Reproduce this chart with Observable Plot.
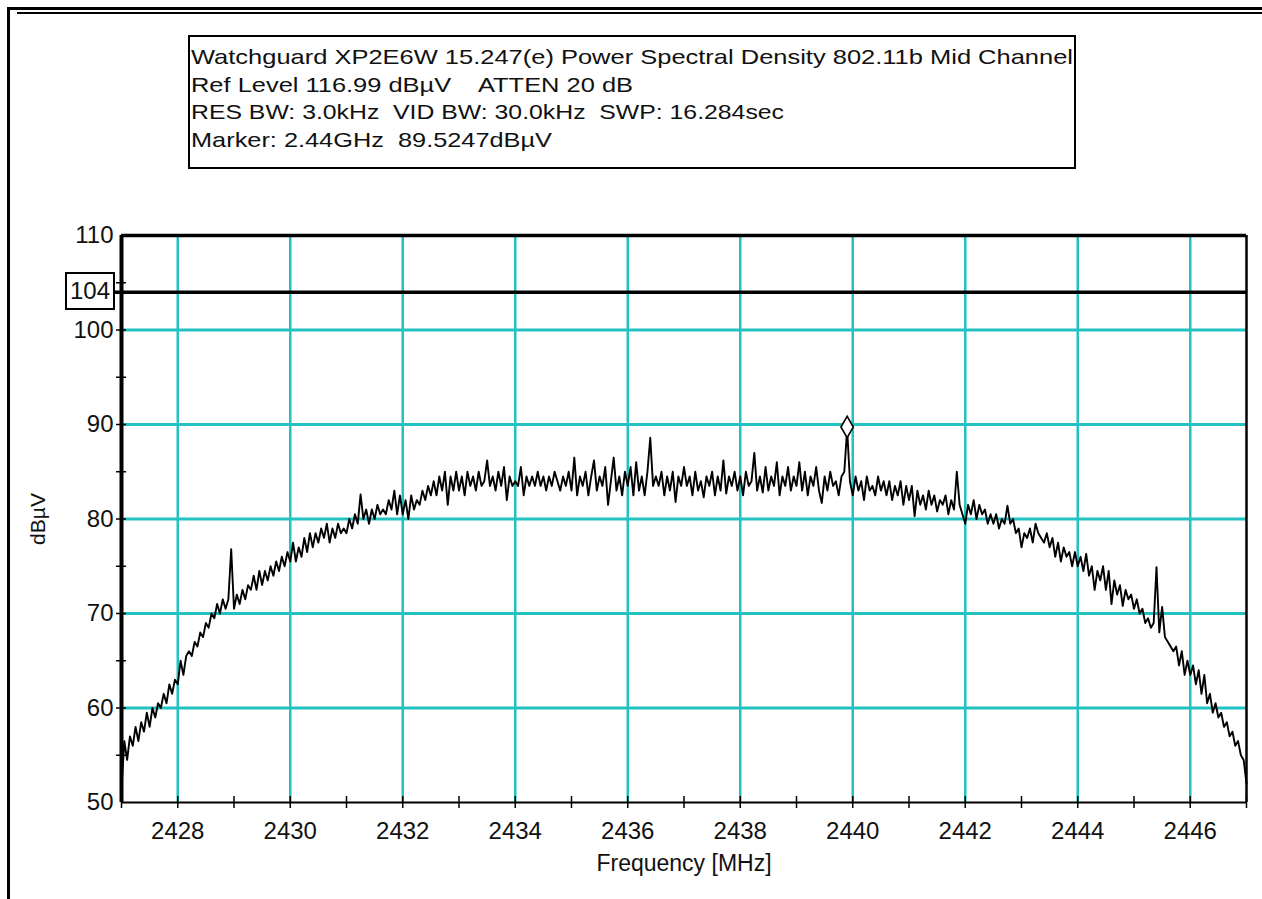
<!DOCTYPE html>
<html><head><meta charset="utf-8">
<script src="https://cdn.jsdelivr.net/npm/d3@7"></script>
<script src="https://cdn.jsdelivr.net/npm/@observablehq/plot@0.6"></script>
<style>
html,body{margin:0;padding:0;background:#fff;}
#wrap{position:relative;width:1262px;height:899px;overflow:hidden;font-family:"Liberation Sans",Arial,sans-serif;background:#fff;}
#chart{position:absolute;left:0;top:0;}
.bar{position:absolute;background:#000;}
.hdr{position:absolute;left:188px;top:35px;width:888px;height:134px;border:2px solid #000;box-sizing:border-box;background:#fff;}
.hl{position:absolute;left:1px;white-space:pre;font-size:21px;line-height:24px;transform-origin:0 50%;color:#111;}
.refbox{position:absolute;left:65px;top:272px;width:50px;height:38px;border:2px solid #000;box-sizing:border-box;font-size:24px;line-height:34px;text-align:center;color:#111;background:#fff;}
</style></head>
<body>
<div id="wrap">
  <div id="chart"></div>
  <div class="bar" style="left:7px;top:7px;width:1255px;height:3px"></div>
  <div class="bar" style="left:17px;top:12px;width:1245px;height:2px"></div>
  <div class="bar" style="left:7px;top:7px;width:3px;height:892px"></div>
  <div class="hdr" id="hdr"></div>
  <div class="refbox" id="refbox"></div>
</div>
<script>
// ---- header texts ----
const headerLines = [
  "Watchguard XP2E6W 15.247(e) Power Spectral Density 802.11b Mid Channel",
  "Ref Level 116.99 dBµV    ATTEN 20 dB",
  "RES BW: 3.0kHz  VID BW: 30.0kHz  SWP: 16.284sec",
  "Marker: 2.44GHz  89.5247dBµV"
];
const refLineLabel = "104";
const refLineValue = [104];

// ---- axes ----
const xDomain = [2427, 2447];
const yDomain = [50, 110];
const xLabeled = [2428, 2430, 2432, 2434, 2436, 2438, 2440, 2442, 2444, 2446];
const xTicksAll = [2427, 2428, 2429, 2430, 2431, 2432, 2433, 2434, 2435, 2436, 2437, 2438, 2439, 2440, 2441, 2442, 2443, 2444, 2445, 2446, 2447];
const yLabeled = [50, 60, 70, 80, 90, 100, 110];
const yGrid = [60, 70, 80, 90, 100];
const yTicksAll = [55, 60, 65, 70, 75, 80, 85, 90, 95, 100, 105];
const xTitle = "Frequency [MHz]";
const yTitle = "dBµV";

// ---- trace (dBµV), sampled every 0.05 MHz from 2427.00 to 2447.00 ----
const traceStart = 2427;
const traceStep = 0.05;
const level = [
  51.5,56.5,54.5,57,56,58,56.5,58.5,57.5,59.5,58,60,59,60.5,60,61.5,60.5,62.5,61.5,63,
  62.5,65,63.5,65.5,66,65.5,67,66.5,68,67.5,69,68.5,70,69.5,71,70,71.5,70.5,71.5,76.8,
  70.5,72,71,72.5,71.5,73,72.5,74,72.5,74.5,73,74.5,73.5,75,74,75.5,74.5,76,75,76.5,
  75.5,77.5,75.5,77,76,78,76.5,78.5,77,78.5,77.5,79,78,79.5,77.5,79,78,79.5,78.5,79,
  78.5,80,79,80.5,79.5,82.6,80,81,79.5,81,80,81.5,80.5,81,80.5,82,81,83,80.5,82.5,
  80.5,82,80,82.5,81,82,81.5,83,82,83.5,82.5,84,82.5,84.5,83,85,81.5,84.5,83,85,
  83,84.5,82.5,85,83.5,84.5,83,85,83.5,84,86.2,83.5,84.5,83,85,83.5,85.5,82,84.5,83.5,
  84,83.5,85.5,82.5,84.5,83.5,84.5,83.5,85,83.5,84.5,83,84.5,83.5,85,84,83,84.5,83.5,85,
  83,86.5,82.5,84.5,83.5,85,82.5,84.5,86.2,83,84.5,83.5,85.5,81.5,84,86.5,83,84.5,82.5,85,
  83.5,85.5,82.5,86,83,84.5,82.5,85,88.6,83.5,84.5,83.5,85,82.5,84.5,83,85,81.8,84.5,83.5,
  85.5,83.5,84.5,82.5,85,83,84,82.3,84.5,83.5,85,82.5,84.5,83,86.2,82.7,84.5,83.5,85,83,
  84.5,82.5,85,83.5,84,87,83,84.5,82.8,85.5,83,84.5,83.5,86,82.5,84.5,83.5,85.5,83,84.5,
  83.5,86,83,85,82.5,84.5,83.5,85.5,83,81.7,84.5,83,85,83.5,84,82.5,84.5,85,89.5,84,
  82.5,84.5,83,84,82,84.5,83,83.5,82.5,84.5,83,84,82.5,84,82,83.5,82.5,84,81.5,83.5,
  82,83.5,80.3,83,81.5,82.5,81,83,81.5,82.5,80.8,82,81.5,82.5,80.5,82,81,85,81.5,80.5,
  79.5,81.5,80.5,82,80,81.5,80.5,81,79.5,80.5,79.5,80.5,79,80,79.5,81.4,79.5,80,78.5,79,
  77,78.5,78,79,77.5,79.5,78.5,78,77.5,78.5,77,78,76,77.5,75.5,77,76,76.5,75,76.5,
  75,76,74.5,76.3,74,75,72.5,74.5,73.5,75,72.5,74.5,71,73.5,72,73,70.8,72.5,71.5,72,
  70.5,71.5,70,70.5,69,69.5,68.5,69,74.9,68,70.7,67.5,67,66.5,66,66.5,64.5,66,63.5,65,
  63.5,64.5,62.5,64,61.5,63.5,60.5,61.5,59.5,60.5,59,59.5,58,58.5,57,57.5,56,56.5,55,54.5,
  52
];
const markerFreq = [2439.9];
const markerLevel = [89.5247];

// ---- build ----
const trace = level.map((v, i) => ({f: traceStart + i * traceStep, v}));
const marker = markerFreq.map((f, i) => ({f, v: markerLevel[i]}));

const cyan = "#22c2c2";
const font = "'Liberation Sans', Arial, sans-serif";

const chart = Plot.plot({
  width: 1262, height: 899,
  marginLeft: 121, marginRight: 16, marginTop: 235, marginBottom: 97,
  style: {fontFamily: font, background: "transparent", color: "#111", overflow: "visible"},
  x: {domain: xDomain},
  y: {domain: yDomain},
  marks: [
    Plot.gridX(xLabeled, {stroke: cyan, strokeOpacity: 1, strokeWidth: 2.5}),
    Plot.gridY(yGrid, {stroke: cyan, strokeOpacity: 1, strokeWidth: 3}),
    Plot.line(trace, {x: "f", y: "v", stroke: "#000", strokeWidth: 1.9}),
    // frame
    Plot.ruleY([yDomain[0]], {stroke: "#000", strokeWidth: 2}),
    Plot.ruleY([yDomain[1]], {stroke: "#000", strokeWidth: 3.5}),
    Plot.ruleX([xDomain[1]], {stroke: "#000", strokeWidth: 2.5}),
    Plot.ruleX([xDomain[0]], {stroke: "#000", strokeWidth: 4}),
    Plot.ruleY(refLineValue, {stroke: "#000", strokeWidth: 3.5, insetLeft: -7}),
    // ticks
    Plot.axisX({ticks: xTicksAll, tickSize: 12, dy: -6, text: null, label: null, stroke: "#000", strokeWidth: 1.5}),
    Plot.axisY({ticks: yTicksAll, tickSize: 10, dx: 5, text: null, label: null, stroke: "#000", strokeWidth: 1.5}),
    Plot.axisX({ticks: xLabeled, tickSize: 0, tickPadding: 19, fontSize: 24, label: null, fill: "#111", tickFormat: d => String(d)}),
    Plot.axisY({ticks: yLabeled, tickSize: 0, tickPadding: 8, fontSize: 24, label: null, fill: "#111", tickFormat: d => String(d)}),
    Plot.text([xTitle], {frameAnchor: "bottom", dy: 61, lineAnchor: "middle", textAnchor: "middle", fontSize: 23, fill: "#111"}),
    Plot.text([yTitle], {frameAnchor: "left", dx: -83, rotate: -90, textAnchor: "middle", lineAnchor: "middle", fontSize: 21, fill: "#111"}),
    Plot.dot(marker, {x: "f", y: "v", symbol: "diamond", r: 6.5, dy: -2, stroke: "#000", fill: "#fff", strokeWidth: 1.6})
  ]
});
document.getElementById("chart").appendChild(chart);

// header box text
const hdr = document.getElementById("hdr");
const tops = [8.4, 36.2, 63.4, 91.2];
const targetW = [882, 442, 593, 361];
headerLines.forEach((t, i) => {
  const d = document.createElement("div");
  d.className = "hl";
  d.textContent = t;
  d.style.top = tops[i] + "px";
  hdr.appendChild(d);
  const w = d.getBoundingClientRect().width;
  d.style.transform = `scaleX(${targetW[i] / w})`;
});
document.getElementById("refbox").textContent = refLineLabel;
</script>
</body></html>
